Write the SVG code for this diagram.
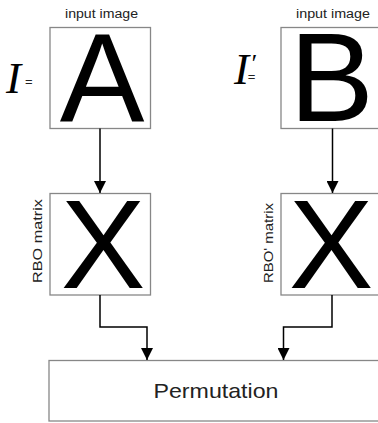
<svg xmlns="http://www.w3.org/2000/svg" width="378" height="423" viewBox="0 0 378 423">
  <defs>
    <style>
      .box { fill: #ffffff; stroke: #878787; stroke-width: 1.3; }
      .big { font-family: "Liberation Sans", Arial, sans-serif; font-size: 127px; fill: #000; text-anchor: middle; }
      .lbl { font-family: "Liberation Sans", Arial, sans-serif; font-size: 12.5px; fill: #222; text-anchor: middle; }
      .sym { font-family: "Liberation Serif", "Times New Roman", serif; font-style: italic; font-size: 45px; fill: #000; }
      .eq { font-family: "Liberation Sans", Arial, sans-serif; font-style: normal; font-size: 13px; fill: #222; }
      .wire { fill: none; stroke: #000; stroke-width: 1.5; }
    </style>
    <marker id="arrow" viewBox="0 0 12 12" refX="12" refY="6" markerWidth="12" markerHeight="12" markerUnits="userSpaceOnUse" orient="auto">
      <path d="M0,0 L12,6 L0,12 Z" fill="#000"/>
    </marker>
  </defs>

  <!-- image I -->
  <g id="image-a">
    <text class="lbl" x="101.5" y="18" textLength="73" lengthAdjust="spacingAndGlyphs">input image</text>
    <rect class="box" x="50" y="27.5" width="100.5" height="101"/>
    <text class="big" x="102" y="121">A</text>
    <text class="sym" x="6" y="93">I<tspan class="eq" dx="4" dy="-7">=</tspan></text>
  </g>

  <!-- image I' -->
  <g id="image-b">
    <text class="lbl" x="333" y="18" textLength="74" lengthAdjust="spacingAndGlyphs">input image</text>
    <rect class="box" x="281" y="27.5" width="100.5" height="101"/>
    <text class="big" x="331.5" y="121">B</text>
    <text class="sym" x="234" y="84">I<tspan style="font-size:26px" dx="1" dy="-12">′</tspan><tspan class="eq" dx="-8" dy="9">=</tspan></text>
  </g>

  <!-- RBO matrix -->
  <g id="rbo-a">
    <rect class="box" x="50" y="193.5" width="100.5" height="101.5"/>
    <text class="big" x="103" y="288">X</text>
    <text class="lbl" transform="translate(41.5,241) rotate(-90)" x="0" y="0" textLength="84" lengthAdjust="spacingAndGlyphs">RBO matrix</text>
  </g>

  <!-- RBO' matrix -->
  <g id="rbo-b">
    <rect class="box" x="281" y="193.5" width="100.5" height="101.5"/>
    <text class="big" x="331" y="288">X</text>
    <text class="lbl" transform="translate(273,243) rotate(-90)" x="0" y="0" textLength="80" lengthAdjust="spacingAndGlyphs">RBO' matrix</text>
  </g>

  <!-- Permutation -->
  <g id="permutation">
    <rect class="box" x="49" y="360.5" width="340" height="60.5"/>
    <text class="lbl" x="216" y="398" style="font-size:21px" textLength="125" lengthAdjust="spacingAndGlyphs">Permutation</text>
  </g>

  <!-- connectors -->
  <g id="connectors">
    <path class="wire" d="M100,128.5 L100,193" marker-end="url(#arrow)"/>
    <path class="wire" d="M332.5,128.5 L332.5,193" marker-end="url(#arrow)"/>
    <path class="wire" d="M100,295 L100,327 L147,327 L147,360" marker-end="url(#arrow)"/>
    <path class="wire" d="M332,295 L332,327 L283.5,327 L283.5,360" marker-end="url(#arrow)"/>
  </g>
</svg>
